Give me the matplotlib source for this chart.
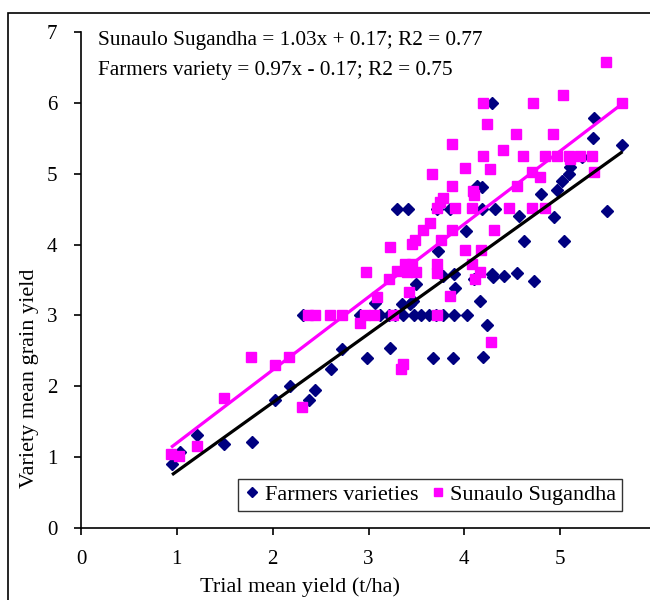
import matplotlib
matplotlib.use("Agg")
import matplotlib.pyplot as plt
from matplotlib.patches import Rectangle
import numpy as np

plt.rcParams['font.family'] = ['Liberation Serif', 'DejaVu Serif']

# ---- data ----
farmers_x = [0.95, 1.03, 1.21, 1.49, 1.78, 2.02, 2.18, 2.38, 2.44, 2.61,
             2.72, 2.98, 3.22, 3.67, 3.88, 4.19, 2.32, 2.91, 3.12, 3.21,
             3.28, 3.36, 3.47, 3.55, 3.63, 3.70, 3.78, 3.89, 4.03, 4.24,
             3.07, 3.35, 3.43, 3.46, 3.50, 3.90, 4.16, 3.78, 3.89, 4.10,
             4.29, 4.30, 4.41, 4.55, 4.73, 3.72, 4.02, 4.62, 5.04, 3.30,
             3.41, 3.71, 3.85, 4.18, 4.32, 4.57, 4.94, 5.49, 4.13, 4.18,
             4.80, 4.97, 5.02, 5.09, 5.10, 5.23, 5.34, 5.35, 5.65, 4.29]
farmers_y = [0.91, 1.07, 1.31, 1.19, 1.21, 1.81, 2.00, 1.81, 1.95, 2.24,
             2.53, 2.40, 2.54, 2.40, 2.40, 2.42, 3.01, 3.01, 3.01, 3.01,
             3.01, 3.01, 3.01, 3.01, 3.01, 3.01, 3.01, 3.01, 3.01, 2.86,
             3.17, 3.16, 3.16, 3.21, 3.45, 3.39, 3.21, 3.56, 3.59, 3.52,
             3.59, 3.54, 3.55, 3.60, 3.49, 3.91, 4.19, 4.05, 4.05, 4.50,
             4.50, 4.50, 4.50, 4.50, 4.50, 4.41, 4.39, 4.48, 4.82, 4.81,
             4.71, 4.77, 4.90, 5.00, 5.10, 5.23, 5.50, 5.79, 5.41, 6.00]

sunaulo_x = [0.94, 1.02, 1.21, 1.49, 1.77, 2.02, 2.17, 2.31, 2.37, 2.44,
             2.60, 2.72, 2.91, 2.96, 3.06, 3.26, 3.71, 3.36, 3.34, 4.28,
             3.09, 3.42, 3.85, 3.21, 2.97, 3.30, 3.40, 3.50, 3.38, 3.45,
             3.71, 3.71, 4.08, 4.16, 4.11, 3.22, 3.49, 3.45, 3.76, 4.01,
             4.17, 3.57, 3.87, 4.31, 3.64, 3.71, 3.90, 4.08, 4.47, 4.71,
             4.84, 3.78, 3.75, 4.09, 4.10, 3.87, 4.55, 3.66, 4.01, 4.27,
             4.71, 4.79, 5.35, 4.19, 4.61, 4.84, 4.97, 5.09, 5.10, 5.21,
             5.33, 4.40, 3.87, 4.54, 4.93, 4.24, 4.19, 4.72, 5.03, 5.65,
             5.48]
sunaulo_y = [1.04, 1.01, 1.16, 1.83, 2.42, 2.30, 2.41, 1.71, 3.01, 3.01,
             3.01, 3.01, 2.90, 3.01, 3.01, 3.01, 3.01, 2.32, 2.25, 2.63,
             3.26, 3.33, 3.27, 3.52, 3.61, 3.63, 3.61, 3.61, 3.73, 3.73,
             3.73, 3.60, 3.73, 3.61, 3.51, 3.96, 4.07, 4.01, 4.06, 3.92,
             3.92, 4.20, 4.20, 4.20, 4.31, 4.51, 4.51, 4.51, 4.51, 4.51,
             4.51, 4.66, 4.60, 4.76, 4.70, 4.82, 4.82, 4.99, 5.08, 5.07,
             5.02, 4.96, 5.02, 5.25, 5.25, 5.25, 5.25, 5.25, 5.21, 5.25,
             5.25, 5.34, 5.42, 5.56, 5.56, 5.70, 6.00, 6.00, 6.11, 6.00,
             6.58]

# trendline coefficients (slope, intercept) as printed on the chart
sunaulo_fit = [1.03, 0.17]
farmers_fit = [0.97, -0.17]

series_names = ["Farmers varieties", "Sunaulo Sugandha"]
equation_texts = ["Sunaulo Sugandha = 1.03x + 0.17; R2 = 0.77",
                  "Farmers variety = 0.97x - 0.17; R2 = 0.75"]
x_ticks = [0, 1, 2, 3, 4, 5, 6]
y_ticks = [0, 1, 2, 3, 4, 5, 6, 7]
x_label = "Trial mean yield (t/ha)"
y_label = "Variety mean grain yield"

# ---- figure ----
W, H = 650, 600
FS = 15
fig = plt.figure(figsize=(W / 100, H / 100), dpi=100)
fig.patch.set_facecolor("white")

# outer chart-area border
fig.add_artist(Rectangle((8 / W, -0.1), 1.2, (H - 13) / H + 0.1,
                         transform=fig.transFigure, fill=False,
                         edgecolor="black", linewidth=1.2))

ax = fig.add_axes([81 / W, 72 / H, (656 - 81) / W, 496 / H])
ax.set_facecolor("white")

navy = "#000080"
magenta = "#FF00FF"

ax.plot(farmers_x, farmers_y, linestyle="none", marker="D", markersize=6.2,
        color=navy, markeredgecolor=navy, label=series_names[0], zorder=3,
        clip_on=False)
ax.plot(sunaulo_x, sunaulo_y, linestyle="none", marker="s", markersize=7.2,
        color=magenta, markeredgecolor=magenta, label=series_names[1],
        zorder=4, clip_on=False)

fx = np.array([min(farmers_x), max(farmers_x)])
ax.plot(fx, farmers_fit[0] * fx + farmers_fit[1], color="black",
        linewidth=2.3, zorder=5, solid_capstyle="butt")
sx = np.array([min(sunaulo_x), max(sunaulo_x)])
ax.plot(sx, sunaulo_fit[0] * sx + sunaulo_fit[1], color=magenta,
        linewidth=2.3, zorder=5, solid_capstyle="butt")

ax.set_xlim(0, 6)
ax.set_ylim(0, 7)
ax.set_xticks(x_ticks)
ax.set_yticks(y_ticks)
ax.set_xticklabels([str(v) for v in x_ticks])
ax.set_yticklabels([str(v) for v in y_ticks])
for s in ["top", "right"]:
    ax.spines[s].set_visible(False)
for s in ["left", "bottom"]:
    ax.spines[s].set_linewidth(1.2)
ax.tick_params(axis="both", direction="out", length=5, width=1.2,
               labelsize=FS, colors="black")
ax.tick_params(axis="x", pad=11)
ax.tick_params(axis="y", pad=12)

# axis titles
fig.text(300 / W, 1 - 587 / H, x_label, fontsize=16, ha="center", va="center")
fig.text(30 / W, 1 - 378 / H, y_label, fontsize=16, ha="center", va="center",
         rotation=90)

fig.text(98 / W, 1 - 40 / H, equation_texts[0], fontsize=15.3,
         ha="left", va="center")
fig.text(98 / W, 1 - 70 / H, equation_texts[1], fontsize=15.3,
         ha="left", va="center")

leg = ax.legend(loc="center", bbox_to_anchor=(430 / W, 1 - 495 / H),
                bbox_transform=fig.transFigure, ncol=2,
                fontsize=16, frameon=True, fancybox=False, borderpad=0.25,
                handletextpad=0.15, handlelength=0.8, columnspacing=0.5,
                markerscale=0.8, borderaxespad=0)
leg.get_frame().set_edgecolor("black")
leg.get_frame().set_linewidth(1.0)

fig.savefig("out.png", dpi=100, facecolor="white")
